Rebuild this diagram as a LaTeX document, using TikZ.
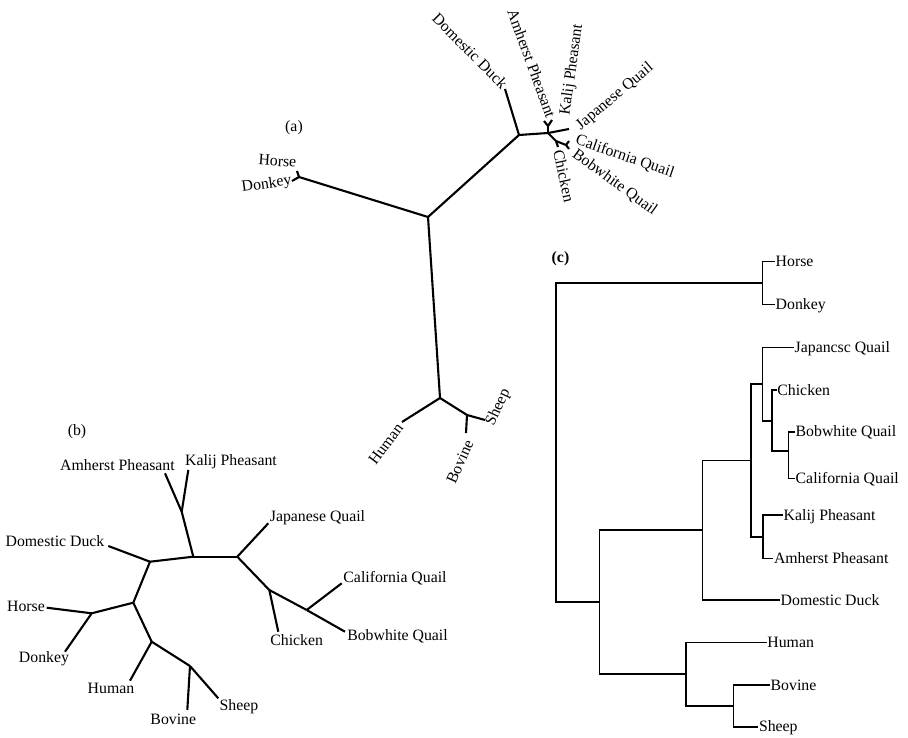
\documentclass[tikz,border=0pt]{standalone}
\usepackage{fontspec}
\setmainfont{Liberation Serif}

\begin{document}
\begin{tikzpicture}[
		x=1pt, y=-1pt,
		every node/.style={inner sep=0.5pt, font=\fontsize{15.8}{18}\selectfont},
		tree/.style={line width=2.1pt, line join=round},
		dendro/.style={line width=1.6pt},
		leaf/.style={anchor=west, text height=10.5pt, text depth=0pt}
	]
  \useasboundingbox (0, 0) rectangle (908, 738);

  % (a) unrooted tree
  \node (tag_a) at (294, 128) {(a)};
  \coordinate (r_a) at (428, 217);
  \coordinate (hd_a) at (299, 177);
  \coordinate (ho_a) at (297, 171);
  \coordinate (do_a) at (292, 181);
  \coordinate (m_a) at (440, 398);
  \coordinate (hu_a) at (402, 422);
  \coordinate (bs_a) at (467, 415);
  \coordinate (sh_a) at (485, 420);
  \coordinate (bo_a) at (466, 433);
  \coordinate (b_a) at (519, 135);
  \coordinate (du_a) at (505, 89);
  \coordinate (g_a) at (548, 133);
  \coordinate (ph_a) at (548, 126);
  \coordinate (am_a) at (544, 121);
  \coordinate (ka_a) at (552, 120);
  \coordinate (jq_a) at (569, 129);
  \coordinate (cb_a) at (556, 141);
  \coordinate (ch_a) at (558, 147);
  \coordinate (bc_a) at (566, 145);
  \coordinate (ca_a) at (569, 141);
  \coordinate (bw_a) at (569, 149);
  \node (horse_a) [rotate=-4] at (277.5, 161) {Horse};
  \node (donkey_a) [rotate=8] at (266.7, 184.6) {Donkey};
  \node (human_a) [rotate=53] at (385.8, 444) {Human};
  \node (bovine_a) [rotate=66] at (460, 461.7) {Bovine};
  \node (sheep_a) [rotate=65] at (498.3, 407.5) {Sheep};
  \node (duck_a) [rotate=-45] at (470, 51) {Domestic Duck};
  \node (amherst_a) [rotate=-70] at (531.7, 63.3) {Amherst Pheasant};
  \node (kalij_a) [rotate=82] at (572, 70) {Kalij Pheasant};
  \node (japanese_a) [rotate=40] at (615, 96.7) {Japanese Quail};
  \node (california_a) [rotate=-19] at (625, 156.7) {California Quail};
  \node (bobwhite_a) [rotate=-36] at (614.7, 182.5) {Bobwhite Quail};
  \node (chicken_a) [rotate=-78] at (564, 176) {Chicken};
  \draw [tree] (r_a) edge (hd_a) edge (m_a) edge (b_a);
  \draw [tree] (hd_a) edge (ho_a) edge (do_a);
  \draw [tree] (m_a) edge (hu_a) edge (bs_a);
  \draw [tree] (bs_a) edge (sh_a) edge (bo_a);
  \draw [tree] (b_a) edge (du_a) edge (g_a);
  \draw [tree] (g_a) edge (ph_a) edge (jq_a) edge (cb_a);
  \draw [tree] (ph_a) edge (am_a) edge (ka_a);
  \draw [tree] (cb_a) edge (ch_a) edge (bc_a);
  \draw [tree] (bc_a) edge (ca_a) edge (bw_a);

  % (b) unrooted tree
  \node (tag_b) at (77, 432) {(b)};
  \coordinate (pn_b) at (181.7, 511.7);
  \coordinate (am_b) at (165, 473.3);
  \coordinate (ka_b) at (188.3, 470);
  \coordinate (p_b) at (193.3, 556.7);
  \coordinate (q_b) at (237.3, 556.7);
  \coordinate (jq_b) at (268.3, 523.3);
  \coordinate (c_b) at (269.3, 590);
  \coordinate (ch_b) at (278.3, 631.7);
  \coordinate (bc_b) at (306.7, 610);
  \coordinate (ca_b) at (341.7, 583.3);
  \coordinate (bw_b) at (345, 631.7);
  \coordinate (d_b) at (150, 561.7);
  \coordinate (du_b) at (108.3, 546);
  \coordinate (m_b) at (133.3, 602.7);
  \coordinate (hd_b) at (91.7, 613.3);
  \coordinate (ho_b) at (46.7, 607.7);
  \coordinate (do_b) at (65, 651.7);
  \coordinate (r_b) at (151.7, 641.7);
  \coordinate (hu_b) at (130, 680.7);
  \coordinate (bs_b) at (190, 666);
  \coordinate (bo_b) at (187.3, 710);
  \coordinate (sh_b) at (218.3, 698.3);
  \node (amherst_b) at (117.5, 465) {Amherst Pheasant};
  \node (kalij_b) at (231, 461.5) {Kalij Pheasant};
  \node (japanese_b) at (317.5, 518) {Japanese Quail};
  \node (duck_b) at (55, 541.5) {Domestic Duck};
  \node (california_b) at (395, 578) {California Quail};
  \node (horse_b) at (26, 606.5) {Horse};
  \node (chicken_b) at (296.7, 640) {Chicken};
  \node (bobwhite_b) at (397.5, 636.5) {Bobwhite Quail};
  \node (donkey_b) at (44, 659) {Donkey};
  \node (human_b) at (111, 688) {Human};
  \node (sheep_b) at (239, 707) {Sheep};
  \node (bovine_b) at (173.3, 719) {Bovine};
  \draw [tree] (pn_b) edge (am_b) edge (ka_b) edge (p_b);
  \draw [tree] (p_b) edge (q_b) edge (d_b);
  \draw [tree] (q_b) edge (jq_b) edge (c_b);
  \draw [tree] (c_b) edge (ch_b) edge (bc_b);
  \draw [tree] (bc_b) edge (ca_b) edge (bw_b);
  \draw [tree] (d_b) edge (du_b) edge (m_b);
  \draw [tree] (m_b) edge (hd_b) edge (r_b);
  \draw [tree] (hd_b) edge (ho_b) edge (do_b);
  \draw [tree] (r_b) edge (hu_b) edge (bs_b);
  \draw [tree] (bs_b) edge (bo_b) edge (sh_b);

  % (c) rooted tree
  \node (tag_c) [font=\fontsize{15.8}{18}\selectfont\bfseries] at (560.5, 259) {(c)};
  \coordinate (r_c) at (555.7, 442.6);
  \coordinate (hd_c) at (762.3, 283);
  \coordinate (bm_c) at (599.3, 602.2);
  \coordinate (b_c) at (702.3, 530.2);
  \coordinate (g_c) at (750.7, 460.3);
  \coordinate (q_c) at (762.3, 384);
  \coordinate (cc_c) at (771.7, 420.7);
  \coordinate (bc_c) at (788.3, 451);
  \coordinate (p_c) at (762.7, 536.7);
  \coordinate (m_c) at (686, 674.2);
  \coordinate (bs_c) at (733.3, 705.9);
  \node (horse_c) [leaf] at (775, 261.5) {Horse};
  \node (donkey_c) [leaf] at (775, 304.5) {Donkey};
  \node (japanese_c) [leaf] at (794, 347.3) {Japancsc Quail};
  \node (chicken_c) [leaf] at (776.7, 390) {Chicken};
  \node (bobwhite_c) [leaf] at (795, 431.7) {Bobwhite Quail};
  \node (california_c) [leaf] at (795, 478.3) {California Quail};
  \node (kalij_c) [leaf] at (783, 515) {Kalij Pheasant};
  \node (amherst_c) [leaf] at (773.3, 558.3) {Amherst Pheasant};
  \node (duck_c) [leaf] at (780, 600) {Domestic Duck};
  \node (human_c) [leaf] at (766.7, 642.3) {Human};
  \node (bovine_c) [leaf] at (770, 685) {Bovine};
  \node (sheep_c) [leaf] at (758.3, 726.7) {Sheep};
  \draw [dendro] (hd_c) -| (r_c) |- (bm_c);
  \draw [dendro] (horse_c.west) -| (hd_c) |- (donkey_c.west);
  \draw [dendro] (b_c) -| (bm_c) |- (m_c);
  \draw [dendro] (g_c) -| (b_c) |- (duck_c.west);
  \draw [dendro] (q_c) -| (g_c) |- (p_c);
  \draw [dendro] (japanese_c.west) -| (q_c) |- (cc_c);
  \draw [dendro] (chicken_c.west) -| (cc_c) |- (bc_c);
  \draw [dendro] (bobwhite_c.west) -| (bc_c) |- (california_c.west);
  \draw [dendro] (kalij_c.west) -| (p_c) |- (amherst_c.west);
  \draw [dendro] (human_c.west) -| (m_c) |- (bs_c);
  \draw [dendro] (bovine_c.west) -| (bs_c) |- (sheep_c.west);
\end{tikzpicture}
\end{document}
